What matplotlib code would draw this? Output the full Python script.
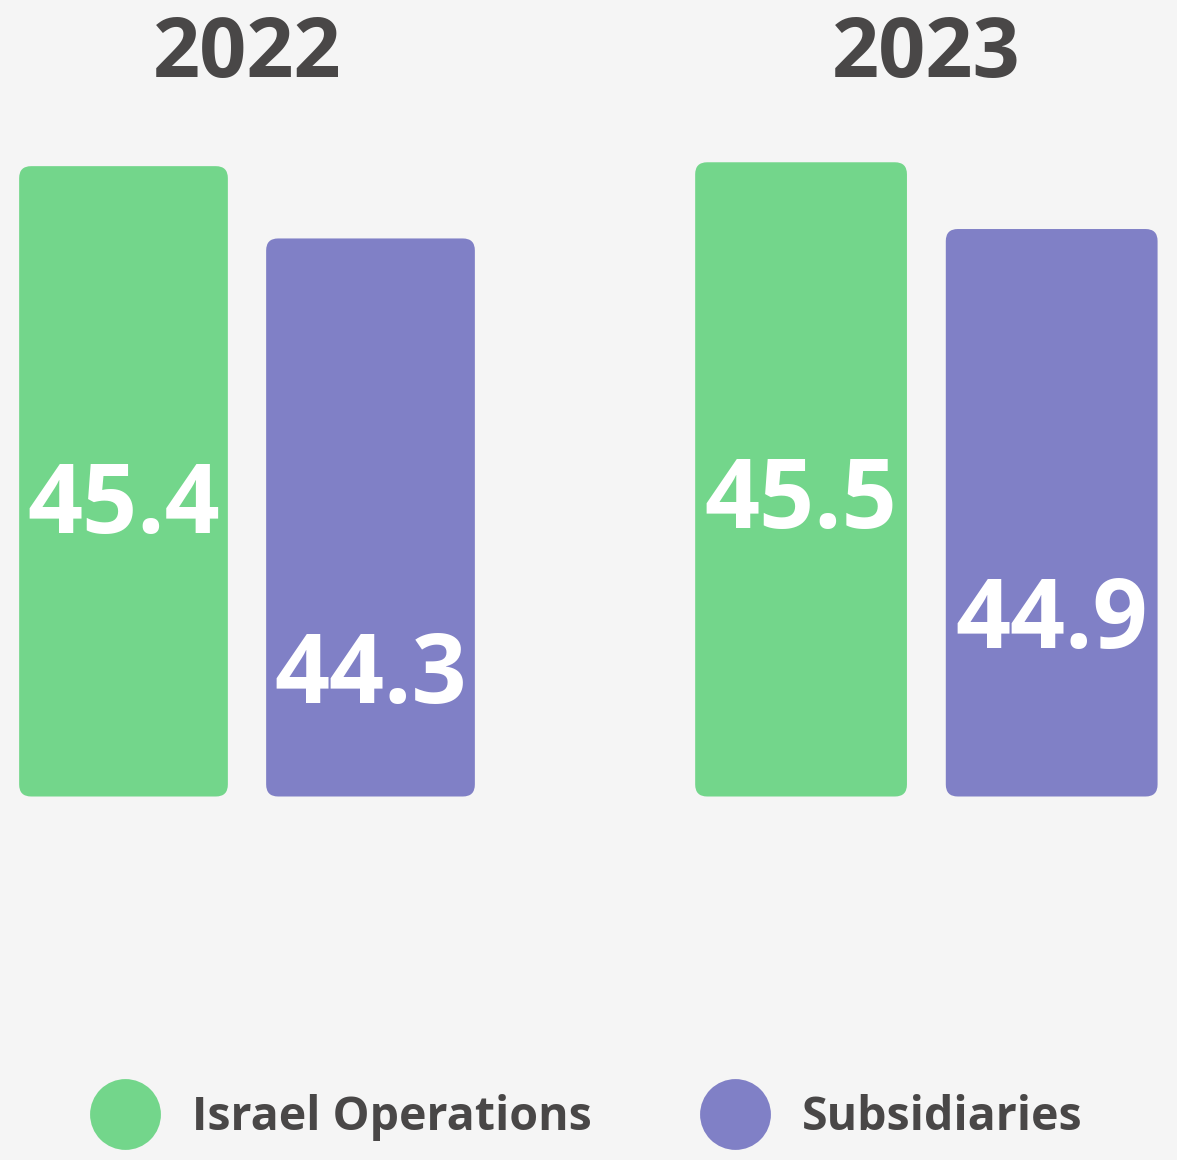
import numpy as np
import matplotlib.pyplot as plt
from matplotlib.patches import FancyBboxPatch
from matplotlib.lines import Line2D

# ------------------------------------------------------------------ dati
years = ['2022', '2023']
series = ['Israel Operations', 'Subsidiaries']
israel = [45.4, 45.5]
subsid = [44.3, 44.9]

# stile
BG = '#f5f5f5'
COLS = ['#73d68b', '#8080c6']
TXT = '#494747'
plt.rcParams['font.family'] = ['Open Sans', 'DejaVu Sans']
plt.rcParams['font.weight'] = 'bold'

W, H = 1177, 1160
fig = plt.figure(figsize=(W / 100, H / 100), dpi=100, facecolor=BG)

# assi per pannello (pixel): sinistra, larghezza; base comune
bottom_px, height_px = 796.5, 666.5
panels = [(0.0, 494.0), (675.75, 501.25)]
ylims = [(35.81, 45.95), (39.80, 45.79)]
# posizione della baseline delle etichette (frazione degli assi)
lab_y = [(0.395, 0.140), (0.403, 0.223)]
radius_px = 12

for i, yr in enumerate(years):
    left, width = panels[i]
    ax = fig.add_axes([left / W, 1 - bottom_px / H, width / W, height_px / H])
    ax.set_facecolor(BG)
    ax.set_xlim(-0.5, 1.5)
    ax.set_ylim(*ylims[i])
    ax.axis('off')

    base = ylims[i][0]
    vals = [israel[i], subsid[i]]
    bars = ax.bar([0, 1], [v - base for v in vals], width=0.845, bottom=base,
                  color=COLS, visible=False)

    # barre arrotondate: stesso raggio in pixel su x e y
    bb = ax.get_window_extent()
    px = bb.width / np.ptp(ax.get_xlim())
    py = bb.height / np.ptp(ax.get_ylim())
    for b, c in zip(bars, COLS):
        p = FancyBboxPatch((b.get_x(), b.get_y()), b.get_width(),
                           b.get_height(),
                           boxstyle=f'round,pad=0,rounding_size={radius_px / px}',
                           mutation_aspect=px / py, fc=c, ec='none',
                           clip_on=False)
        ax.add_patch(p)

    for j, v in enumerate(vals):
        ax.text(j, lab_y[i][j], f'{v:.1f}', transform=ax.get_xaxis_transform(),
                ha='center', va='baseline', color='white', fontsize=69.5,
                fontweight='bold')

    ax.text(0.5, (bottom_px - 77) / height_px, yr, transform=ax.transAxes,
            ha='center', va='baseline', color=TXT, fontsize=59.5,
            fontweight='bold')

handles = [Line2D([], [], ls='none', marker='o', ms=51, mfc=c, mec='none')
           for c in COLS]
leg = fig.legend(handles, series, loc='center left',
                 bbox_to_anchor=(88 / W, 1 - 1117.5 / H), ncol=2,
                 frameon=False, fontsize=33.5, handlelength=1.6,
                 handletextpad=0.64, columnspacing=2.27, borderpad=0,
                 borderaxespad=0)
for t in leg.get_texts():
    t.set_color(TXT)
    t.set_fontweight('bold')

fig.savefig('out.png', dpi=100, facecolor=BG)
